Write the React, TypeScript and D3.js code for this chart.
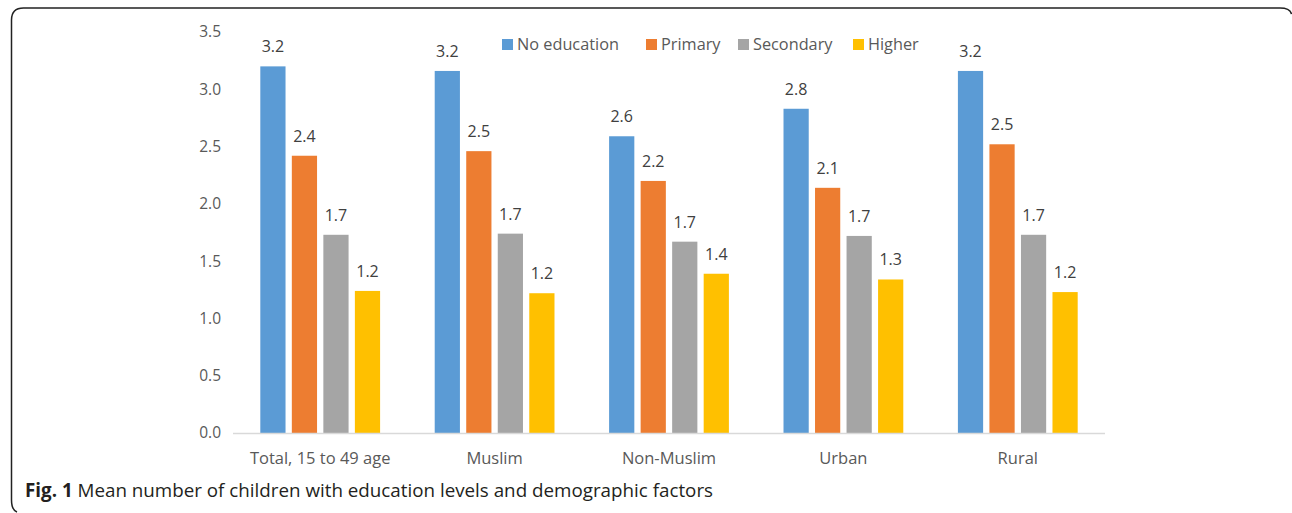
import { useEffect, useRef } from 'react';
import * as d3 from 'd3';

const categories = ['Total, 15 to 49 age', 'Muslim', 'Non-Muslim', 'Urban', 'Rural'];
const seriesNames = ['No education', 'Primary', 'Secondary', 'Higher'];
const seriesColors = ['#5b9bd5', '#ed7d31', '#a5a5a5', '#ffc000'];

const noEducation = [3.2, 3.16, 2.59, 2.83, 3.16];
const primary = [2.42, 2.46, 2.2, 2.14, 2.52];
const secondary = [1.73, 1.74, 1.67, 1.72, 1.73];
const higher = [1.24, 1.22, 1.39, 1.34, 1.23];

const yTicks = [0, 0.5, 1, 1.5, 2, 2.5, 3, 3.5];

const W = 1292;
const H = 513;
const FONT = '"Open Sans", "Noto Sans", sans-serif';

export default function App() {
  const svgRef = useRef<SVGSVGElement>(null);

  useEffect(() => {
    if (!svgRef.current) return;
    const svg = d3.select(svgRef.current);
    svg.selectAll('*').remove();

    const values = [noEducation, primary, secondary, higher];

    // frame (open on the right and bottom, like the figure box)
    svg
      .append('path')
      .attr('d', 'M11.5,500 L11.5,20 Q11.5,8 23.5,8 L1280,8 Q1290,8 1291.5,14 M11.5,500 Q11.5,510 17,512')
      .attr('fill', 'none')
      .attr('stroke', '#222')
      .attr('stroke-width', 1.5);

    const plot = { left: 233, right: 1105, top: 32, bottom: 433 };

    const x0 = d3
      .scaleBand<string>()
      .domain(categories)
      .range([plot.left, plot.right])
      .paddingInner(0.277)
      .paddingOuter(0.1385);

    const x1 = d3
      .scaleBand<string>()
      .domain(seriesNames)
      .range([0, x0.bandwidth()])
      .paddingInner(0.2)
      .paddingOuter(0.1);

    const y = d3.scaleLinear().domain([0, 3.5]).range([plot.bottom, plot.top]);

    // y axis labels
    svg
      .append('g')
      .selectAll('text')
      .data(yTicks)
      .enter()
      .append('text')
      .attr('x', 221)
      .attr('y', (d) => y(d))
      .attr('dy', '0.35em')
      .attr('text-anchor', 'end')
      .attr('font-family', FONT)
      .attr('font-size', 15.5)
      .attr('fill', '#595959')
      .text((d) => d3.format('.1f')(d));

    // bars
    categories.forEach((cat, ci) => {
      const g = svg.append('g').attr('transform', `translate(${x0(cat)},0)`);
      seriesNames.forEach((s, si) => {
        const v = values[si][ci];
        g.append('rect')
          .attr('x', x1(s)!)
          .attr('y', y(v))
          .attr('width', x1.bandwidth())
          .attr('height', y(0) - y(v))
          .attr('fill', seriesColors[si]);
        g.append('text')
          .attr('x', x1(s)! + x1.bandwidth() / 2)
          .attr('y', y(v) - 14)
          .attr('text-anchor', 'middle')
          .attr('font-family', FONT)
          .attr('font-size', 16)
          .attr('fill', '#404040')
          .text(d3.format('.1f')(v));
      });
    });

    // baseline
    svg
      .append('line')
      .attr('x1', plot.left)
      .attr('x2', plot.right)
      .attr('y1', y(0) + 0.5)
      .attr('y2', y(0) + 0.5)
      .attr('stroke', '#d9d9d9')
      .attr('stroke-width', 1.5);

    // category labels
    svg
      .append('g')
      .selectAll('text')
      .data(categories)
      .enter()
      .append('text')
      .attr('x', (d) => x0(d)! + x0.bandwidth() / 2)
      .attr('y', 458)
      .attr('dy', '0.35em')
      .attr('text-anchor', 'middle')
      .attr('font-family', FONT)
      .attr('font-size', 16.5)
      .attr('fill', '#595959')
      .text((d) => d);

    // legend
    const legendX = [502, 646, 738, 853];
    seriesNames.forEach((s, i) => {
      svg
        .append('rect')
        .attr('x', legendX[i])
        .attr('y', 39)
        .attr('width', 11)
        .attr('height', 11)
        .attr('fill', seriesColors[i]);
      svg
        .append('text')
        .attr('x', legendX[i] + 15)
        .attr('y', 44.5)
        .attr('dy', '0.35em')
        .attr('font-family', FONT)
        .attr('font-size', 16.3)
        .attr('fill', '#595959')
        .text(s);
    });

    // caption
    const cap = svg
      .append('text')
      .attr('x', 25)
      .attr('y', 490)
      .attr('dy', '0.35em')
      .attr('font-family', FONT)
      .attr('font-size', 18.8)
      .attr('fill', '#231f20');
    cap.append('tspan').attr('font-weight', 'bold').text('Fig. 1');
    cap.append('tspan').text(' Mean number of children with education levels and demographic factors');
  }, []);

  return (
    <>
      <style>{'body{margin:0}'}</style>
      <svg ref={svgRef} width={W} height={H} style={{ display: 'block', background: '#fff' }} />
    </>
  );
}
